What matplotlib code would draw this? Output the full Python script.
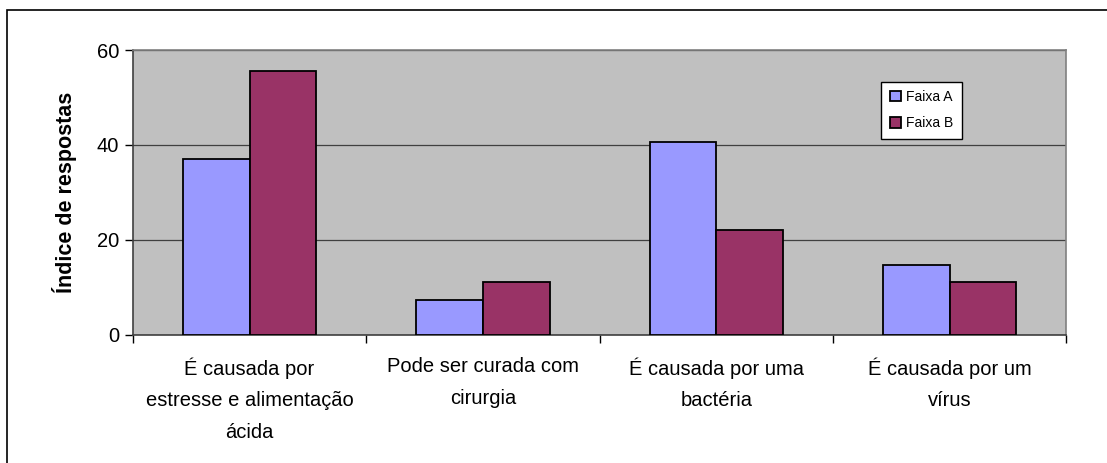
import matplotlib.pyplot as plt
from matplotlib.patches import Rectangle
import numpy as np

categories = ['É causada por\nestresse e alimentação\nácida',
              'Pode ser curada com\ncirurgia',
              'É causada por uma\nbactéria',
              'É causada por um\nvírus']
faixa_a = [37.0, 7.4, 40.7, 14.8]
faixa_b = [55.6, 11.1, 22.2, 11.1]
series_names = ['Faixa A', 'Faixa B']
y_ticks = [0, 20, 40, 60]

plt.rcParams['font.family'] = ['Liberation Sans', 'DejaVu Sans']

fig = plt.figure(figsize=(11.07, 4.63), dpi=100)
ax = fig.add_axes([0.1201, 0.2765, 0.843, 0.6155])

# moldura do gráfico (cortada à direita e embaixo)
fig.patches.append(Rectangle((7 / 1107, -0.1), 1.2, 1 - 10 / 463 + 0.1,
                             transform=fig.transFigure, fill=False,
                             edgecolor='black', linewidth=1.2))

x = np.arange(len(categories))
w = 2 / 7
ax.bar(x - w / 2, faixa_a, w, color='#9999FF', edgecolor='black',
       linewidth=1.3, label=series_names[0], zorder=3)
ax.bar(x + w / 2, faixa_b, w, color='#993366', edgecolor='black',
       linewidth=1.3, label=series_names[1], zorder=3)

ax.set_facecolor('#C0C0C0')
ax.set_xlim(-0.5, len(categories) - 0.5)
ax.set_ylim(0, 60)
ax.set_yticks(y_ticks)
ax.yaxis.grid(True, color='#404040', linewidth=0.9, zorder=1)

ax.set_xticks(x)
ax.set_xticklabels(categories, fontsize=14.5, linespacing=1.85)
ax.set_xticks(np.arange(-0.5, len(categories)), minor=True)
ax.tick_params(axis='x', which='major', length=0, pad=16)
ax.tick_params(axis='x', which='minor', length=6, width=1, color='black')
ax.tick_params(axis='y', labelsize=14.5, length=6, width=1, pad=4)

ax.set_ylabel('Índice de respostas', fontsize=15.5, fontweight='bold', labelpad=14)

for side in ['top', 'right']:
    ax.spines[side].set_color('#808080')
    ax.spines[side].set_linewidth(1.2)
for side in ['left', 'bottom']:
    ax.spines[side].set_color('#404040')
    ax.spines[side].set_linewidth(1.2)

leg = ax.legend(loc='upper left', bbox_to_anchor=(0.802, 0.889), fontsize=10,
                fancybox=False, framealpha=1, edgecolor='black',
                handlelength=0.8, handleheight=0.8, handletextpad=0.4,
                labelspacing=0.9, borderpad=0.6, borderaxespad=0)
leg.get_frame().set_linewidth(1)

fig.savefig('out.png', dpi=100)
